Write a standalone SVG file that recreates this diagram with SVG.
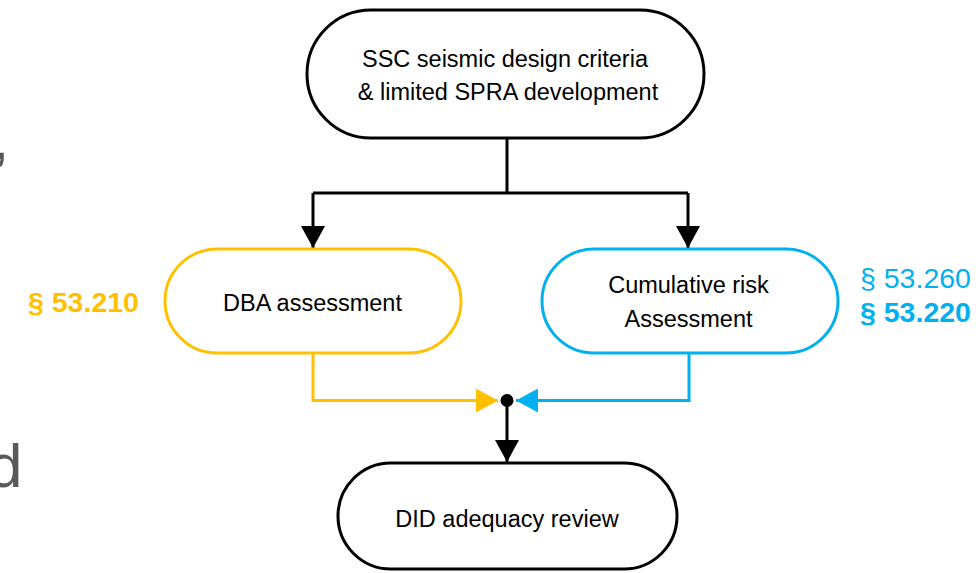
<svg xmlns="http://www.w3.org/2000/svg" width="978" height="573" viewBox="0 0 978 573">
  <style>
    .node { fill: #ffffff; stroke-width: 3; }
    .blk { stroke: #000000; }
    .yel { stroke: #FFC000; }
    .blu { stroke: #00B0F0; }
    .lbl { font-family: "Liberation Sans", Arial, sans-serif; font-size: 23.5px; fill: #000000; text-anchor: middle; }
    .sec { font-family: "Liberation Sans", Arial, sans-serif; font-size: 28.5px; }
    .conn { fill: none; stroke-width: 3; }
    .frag { font-family: "Liberation Sans", Arial, sans-serif; fill: #595959; }
  </style>
  <defs>
    <marker id="ahBlack" markerUnits="userSpaceOnUse" markerWidth="24" markerHeight="24" viewBox="0 0 22 24" refX="22" refY="12" orient="auto">
      <path d="M0,0 L22,12 L0,24 Z" fill="#000000"/>
    </marker>
    <marker id="ahYellow" markerUnits="userSpaceOnUse" markerWidth="24" markerHeight="24" viewBox="0 0 22 24" refX="22" refY="12" orient="auto">
      <path d="M0,0 L22,12 L0,24 Z" fill="#FFC000"/>
    </marker>
    <marker id="ahBlue" markerUnits="userSpaceOnUse" markerWidth="24" markerHeight="24" viewBox="0 0 22 24" refX="22" refY="12" orient="auto">
      <path d="M0,0 L22,12 L0,24 Z" fill="#00B0F0"/>
    </marker>
  </defs>
  <rect width="978" height="573" fill="#ffffff"/>

  <!-- fragments of cropped slide text -->
  <text class="frag" x="-7.5" y="159" font-size="60">,</text>
  <text class="frag" x="-12" y="487" font-size="62">d</text>

  <g id="connectors">
    <path class="conn blk" d="M507,138 V193 M313,193 H688"/>
    <path class="conn blk" d="M313,193 V248" marker-end="url(#ahBlack)"/>
    <path class="conn blk" d="M688,193 V248" marker-end="url(#ahBlack)"/>
    <path class="conn yel" d="M313,353 V400.5 H498" marker-end="url(#ahYellow)"/>
    <path class="conn blu" d="M689,353 V400.5 H516" marker-end="url(#ahBlue)"/>
    <path class="conn blk" d="M507,401 V462" marker-end="url(#ahBlack)"/>
    <circle cx="507" cy="400.5" r="6.5" fill="#000000"/>
  </g>

  <g id="node-ssc">
    <rect class="node blk" x="307" y="10" width="397" height="128" rx="64" ry="64"/>
    <text class="lbl" x="505" y="67">SSC seismic design criteria</text>
    <text class="lbl" x="508" y="100">&amp; limited SPRA development</text>
  </g>

  <g id="node-dba">
    <rect class="node yel" x="165" y="249" width="296" height="104" rx="52" ry="52"/>
    <text class="lbl" x="312.5" y="311">DBA assessment</text>
  </g>
  <g id="label-53210">
    <text class="sec" x="28" y="312" fill="#FFC000" font-weight="bold">§ 53.210</text>
  </g>

  <g id="node-cra">
    <rect class="node blu" x="542" y="249" width="296" height="104" rx="52" ry="52"/>
    <text class="lbl" x="688.5" y="293">Cumulative risk</text>
    <text class="lbl" x="688.5" y="327">Assessment</text>
  </g>
  <g id="label-53260-53220">
    <text class="sec" x="860" y="288" fill="#00B0F0">§ 53.260</text>
    <text class="sec" x="860" y="322" fill="#00B0F0" font-weight="bold">§ 53.220</text>
  </g>

  <g id="node-did">
    <rect class="node blk" x="338" y="463" width="339" height="106" rx="53" ry="53"/>
    <text class="lbl" x="507" y="527">DID adequacy review</text>
  </g>
</svg>
